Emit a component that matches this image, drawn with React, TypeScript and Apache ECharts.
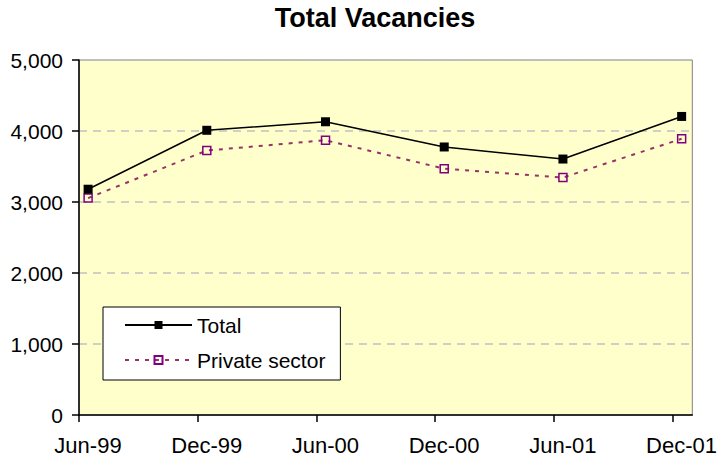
import React, { useEffect, useRef } from 'react';
import * as echarts from 'echarts';

const categories = ['Jun-99', 'Dec-99', 'Jun-00', 'Dec-00', 'Jun-01', 'Dec-01'];
const totalValues = [3180, 4010, 4130, 3775, 3605, 4205];
const privateValues = [3055, 3725, 3870, 3470, 3345, 3890];
const seriesNames = ['Total', 'Private sector'];
const yMin = 0;
const yMax = 5000;
const yStep = 1000;
const monthsPerCategory = 6;
const pointOffsetMonths = 0.46;
const axisEndMonths = 31;

const FONT = 'Arial, "Liberation Sans", Helvetica, sans-serif';

export default function App() {
  const ref = useRef<HTMLDivElement>(null);
  useEffect(() => {
    document.body.style.margin = '0';
    if (!ref.current) return;
    const chart = echarts.init(ref.current, undefined, { renderer: 'svg' });
    const toPoints = (vals: number[]) =>
      vals.map((v, i) => [i * monthsPerCategory + pointOffsetMonths, v]);
    chart.setOption({
      animation: false,
      backgroundColor: '#ffffff',
      title: {
        text: 'Total Vacancies',
        left: 375,
        top: 4,
        textAlign: 'center',
        padding: 0,
        textStyle: { fontFamily: FONT, fontSize: 27, fontWeight: 'bold', color: '#000' },
      },
      legend: {
        orient: 'vertical',
        left: 103,
        top: 307,
        width: 239,
        backgroundColor: '#ffffff',
        borderColor: '#000000',
        borderWidth: 1,
        borderRadius: 0,
        padding: [7, 15, 9, 21],
        itemWidth: 67,
        itemHeight: 10,
        itemGap: 13,
        selectedMode: false,
        data: seriesNames,
        textStyle: { fontFamily: FONT, fontSize: 21, color: '#000', lineHeight: 22 },
      },
      grid: {
        left: 79,
        right: 27,
        top: 60,
        bottom: 45,
        show: true,
        backgroundColor: '#FFFFCC',
        borderColor: '#808080',
        borderWidth: 1,
      },
      xAxis: {
        type: 'value',
        min: 0,
        max: axisEndMonths,
        interval: monthsPerCategory,
        axisLine: { show: true, onZero: false, lineStyle: { color: '#000', width: 1.5 } },
        axisTick: { show: true, length: 7, lineStyle: { color: '#000', width: 1.5 } },
        splitLine: { show: false },
        axisLabel: {
          margin: 19,
          padding: [0, 0, 0, 18],
          fontFamily: FONT,
          fontSize: 22,
          color: '#000',
          showMaxLabel: false,
          formatter: (v: number) => {
            const idx = Math.round(v / monthsPerCategory);
            return Math.abs(idx * monthsPerCategory - v) < 1e-6 ? categories[idx] ?? '' : '';
          },
        },
      },
      yAxis: {
        type: 'value',
        min: yMin,
        max: yMax,
        interval: yStep,
        axisLine: { show: true, lineStyle: { color: '#000', width: 1.5 } },
        axisTick: { show: true, length: 7, lineStyle: { color: '#000', width: 1.5 } },
        splitLine: { show: true, lineStyle: { color: '#C0C0C0', type: [8, 6], width: 1.5 } },
        axisLabel: {
          margin: 16,
          fontFamily: FONT,
          fontSize: 21,
          color: '#000',
          formatter: (v: number) => v.toLocaleString('en-US'),
        },
      },
      series: [
        {
          name: seriesNames[0],
          type: 'line',
          data: toPoints(totalValues),
          symbol: 'rect',
          symbolSize: 9,
          color: '#000',
          lineStyle: { color: '#000', width: 1.5 },
          itemStyle: { color: '#000' },
          z: 3,
        },
        {
          name: seriesNames[1],
          type: 'line',
          data: toPoints(privateValues),
          symbol: 'rect',
          symbolSize: 8,
          color: '#993366',
          lineStyle: { color: '#993366', width: 2, type: [4, 6] },
          itemStyle: { color: 'rgba(0,0,0,0)', borderColor: '#800080', borderWidth: 1.5 },
          z: 2,
        },
      ],
    });
    return () => chart.dispose();
  }, []);
  return <div ref={ref} style={{ width: 720, height: 460 }} />;
}
